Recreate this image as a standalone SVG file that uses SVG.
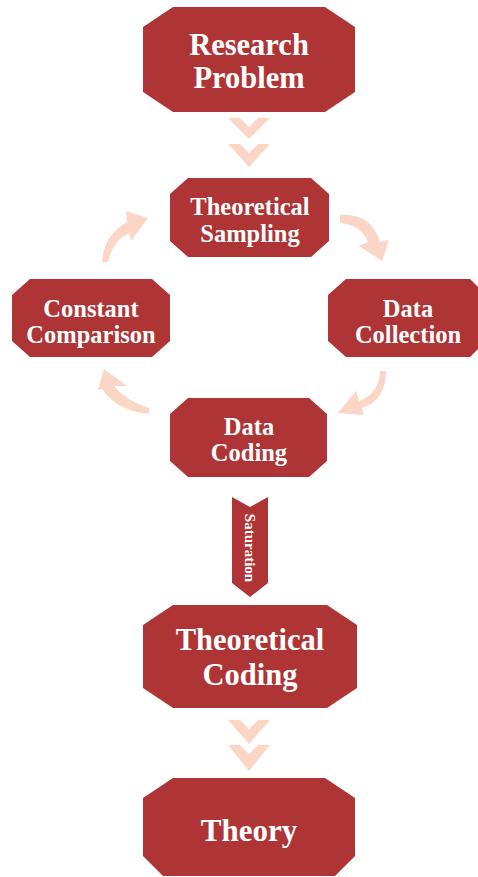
<svg xmlns="http://www.w3.org/2000/svg" width="478" height="877" viewBox="0 0 478 877">
<defs>
<style>
.box{fill:#ae3436;}
.t{font-family:"Liberation Serif","Times New Roman",serif;font-weight:bold;fill:#ffffff;text-anchor:middle;}
.chev{fill:#fbd6c6;}
.arr{fill:#fbd6c6;}
</style>
</defs>
<rect width="478" height="877" fill="#ffffff"/>
<g id="research-problem">
<polygon class="box" points="173,7 325,7 355,27 355,92 325,112 173,112 143,92 143,27"/>
<text class="t" x="249" y="55" font-size="30.5">Research</text>
<text class="t" x="249" y="88" font-size="30.5">Problem</text>
</g>
<g id="theoretical-sampling">
<polygon class="box" points="188,178 311,178 329,194 329,241 311,257 188,257 170,241 170,194"/>
<text class="t" x="250" y="215" font-size="24.5">Theoretical</text>
<text class="t" x="250" y="242" font-size="24.5">Sampling</text>
</g>
<g id="constant-comparison">
<polygon class="box" points="30,279 152,279 170,295 170,341 152,357 30,357 12,341 12,295"/>
<text class="t" x="91" y="317" font-size="24.5">Constant</text>
<text class="t" x="91" y="343" font-size="24.5">Comparison</text>
</g>
<g id="data-collection">
<polygon class="box" points="346,279 470,279 478,287 478,349 470,357 346,357 328,341 328,295"/>
<text class="t" x="408" y="317" font-size="24.5">Data</text>
<text class="t" x="408" y="343" font-size="24.5">Collection</text>
</g>
<g id="data-coding">
<polygon class="box" points="188,398 309,398 327,414 327,461 309,477 188,477 170,461 170,414"/>
<text class="t" x="249" y="435" font-size="24.5">Data</text>
<text class="t" x="249" y="461" font-size="24.5">Coding</text>
</g>
<g id="theoretical-coding">
<polygon class="box" points="173,605 327,605 357,625 357,688 327,708 173,708 143,688 143,625"/>
<text class="t" x="250" y="650" font-size="30.5">Theoretical</text>
<text class="t" x="250" y="685" font-size="30.5">Coding</text>
</g>
<g id="theory">
<polygon class="box" points="173,778 325,778 355,798 355,856 335,876 163,876 143,856 143,798"/>
<text class="t" x="249" y="841" font-size="31">Theory</text>
</g>
<g id="connectors">
<polygon class="chev" points="228,118 240,118 249,127 258,118 270,118 249,139"/>
<polygon class="chev" points="228,144 240,144 249,153 258,144 270,144 249,167"/>
<polygon class="chev" points="228,720 240,720 249,729 258,720 270,720 249,744"/>
<polygon class="chev" points="228,745 240,745 249,754 258,745 270,745 249,771"/>
<path class="arr" d="M102,262 Q104,235 127,222 L126,211 L148,218 L131,241 L129,233 Q113,240 108,262 Z"/>
<path class="arr" d="M340,215 Q371,213 380,242 L389,240 L382,261 L359,246 L368,242 Q361,225 340,223 Z"/>
<path class="arr" d="M149,414 Q117,411 102,389 L98,390 L104,369 L127,386 L114,386 Q126,401 149,408 Z"/>
<path class="arr" d="M380,371 Q379,394 359,401 L356,391 L338,413 L364,415 L362,408 Q386,400 386,371 Z"/>
<polygon class="box" points="232,497 250,507 268,497 268,583 250,597 232,583"/>
<text class="t" x="0" y="0" font-size="15" transform="translate(245,548) rotate(90)">Saturation</text>
</g>
</svg>
